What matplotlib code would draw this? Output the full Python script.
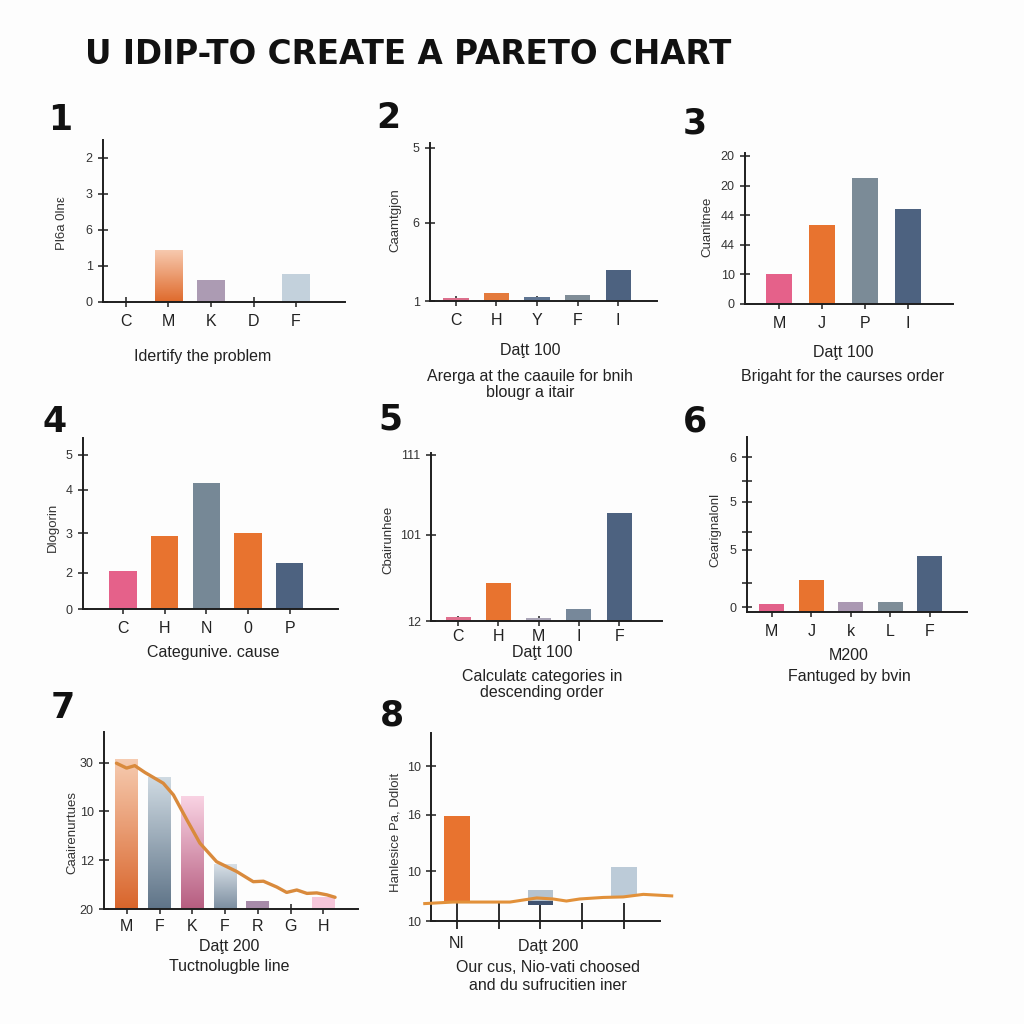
import matplotlib.pyplot as plt
import numpy as np
from matplotlib.colors import LinearSegmentedColormap

W = H = 1024

title = "U IDIP-TO CREATE A PARETO CHART"

# panel 1
p1_cats = ["C", "M", "K", "D", "F"]
p1_vals = [0, 1.44, 0.6, 0, 0.78]
p1_yticklabels = ["0", "1", "6", "3", "2"]
p1_ylabel = "Pl6a 0lnε"
p1_caption = ["Idertify the problem"]

# panel 2
p2_cats = ["C", "H", "Y", "F", "I"]
p2_vals = [0.2, 0.5, 0.25, 0.4, 2.0]
p2_yticklabels = ["1", "6", "5"]
p2_ylabel = "Caamtgjon"
p2_caption = ["Daţt 100", "Arerga at the caauile for bnih", "blougr a itair"]

# panel 3
p3_cats = ["M", "J", "P", "I"]
p3_vals = [1.0, 2.67, 4.26, 3.2]
p3_yticklabels = ["0", "10", "44", "44", "20", "20"]
p3_ylabel = "Cuanitnee"
p3_caption = ["Daţt 100", "Brigaht for the caurses order"]

# panel 4
p4_cats = ["C", "H", "N", "0", "P"]
p4_vals = [0.99, 1.9, 3.27, 1.97, 1.19]
p4_yticklabels = ["0", "2", "3", "4", "5"]
p4_ylabel = "Dlogorin"
p4_caption = ["Categunive. cause"]

# panel 5
p5_cats = ["C", "H", "M", "I", "F"]
p5_vals = [0.05, 0.46, 0.04, 0.145, 1.3]
p5_yticklabels = ["12", "101", "111"]
p5_ylabel = "Cbairunhee"
p5_caption = ["Daţt 100", "Calculatε categories in", "descending order"]

# panel 6
p6_cats = ["M", "J", "k", "L", "F"]
p6_vals = [0.16, 0.64, 0.2, 0.2, 1.12]
p6_yticklabels = ["0", "5", "5", "6"]
p6_ylabel = "Cearignalonl"
p6_caption = ["M200", "Fantuged by bvin"]

# panel 7
p7_cats = ["M", "F", "K", "F", "R", "G", "H"]
p7_vals = [3.06, 2.69, 2.3, 0.92, 0.16, 0, 0.25]
p7_line_x = [-0.32, -0.01, 0.24, 0.55, 1.11, 1.42, 1.83, 2.23, 2.74, 3.35,
             3.86, 4.17, 4.58, 4.88, 5.19, 5.50, 5.80, 6.11, 6.36]
p7_line_y = [2.99, 2.89, 2.94, 2.80, 2.58, 2.34, 1.83, 1.35, 0.97, 0.77,
             0.56, 0.57, 0.45, 0.34, 0.39, 0.32, 0.33, 0.29, 0.24]
p7_yticklabels = ["20", "12", "10", "30"]
p7_ylabel = "Caairenurtues"
p7_caption = ["Daţt 200", "Tuctnolugble line"]

# panel 8
p8_cats = ["NI", "", "", "", ""]
p8_bar_pos = [0, 2, 2, 4]
p8_bar_bottom = [0.39, 0.31, 0.39, 0.49]
p8_bar_height = [1.65, 0.08, 0.22, 0.57]
p8_line_x = [-0.77, -0.09, 1.27, 1.91, 2.30, 2.62, 2.94, 3.50, 3.98, 4.46, 5.14]
p8_line_y = [0.34, 0.37, 0.37, 0.45, 0.43, 0.39, 0.43, 0.46, 0.47, 0.52, 0.49]
p8_yticklabels = ["10", "10", "16", "10"]
p8_ylabel = "Hanlesice Pa, Ddloit"
p8_caption = ["Daţt 200", "Our cus, Nio-vati choosed", "and du sufrucitien iner"]

PINK = "#e5618a"
ORANGE = "#e8732f"
STEEL = "#768896"
NAVY = "#4d6280"
AX = "#1e1e1e"

plt.rcParams["font.family"] = ["Liberation Sans", "DejaVu Sans"]
fig = plt.figure(figsize=(10.24, 10.24), dpi=100)
fig.patch.set_facecolor("#fdfdfd")


def px_rect(left, top, right, bottom):
    return [left / W, 1 - bottom / H, (right - left) / W, (bottom - top) / H]


def ftext(x, y, s, **kw):
    fig.text(x / W, 1 - y / H, s, **kw)


def make_axes(rect, xlim, ylim, ytick_pos, ytick_labels, cats):
    ax = fig.add_axes(px_rect(*rect))
    ax.set_facecolor("none")
    for s in ("top", "right"):
        ax.spines[s].set_visible(False)
    for s in ("left", "bottom"):
        ax.spines[s].set_linewidth(1.4)
        ax.spines[s].set_color(AX)
    ax.set_yticks(ytick_pos, ytick_labels)
    ax.set_xticks(range(len(cats)), cats)
    ax.tick_params(direction="inout", length=7, width=1.1, color=AX)
    ax.tick_params(axis="x", labelsize=11.5, pad=5, labelcolor="#222")
    ax.tick_params(axis="y", labelsize=9, pad=4, labelcolor="#333")
    ax.set_xlim(*xlim)
    ax.set_ylim(*ylim)
    return ax


def gradient_bar(ax, x, h, w, top, bottom, y0=0):
    cmap = LinearSegmentedColormap.from_list("g", [bottom, top])
    grad = np.linspace(0, 1, 128).reshape(-1, 1)
    ax.imshow(grad, extent=(x - w / 2, x + w / 2, y0, y0 + h), origin="lower",
              cmap=cmap, aspect="auto", zorder=2)


def panel_number(x, y, n):
    ftext(x, y, n, fontsize=25, fontweight="bold", family="DejaVu Sans",
          ha="center", va="center", color="#111")


def ylabel(x, y, s):
    ftext(x, y, s, fontsize=9.5, rotation=90, ha="center", va="center", color="#333")


def caption(x, ys, lines):
    for y, s in zip(ys, lines):
        ftext(x, y, s, fontsize=11.5, ha="center", va="center", color="#222")


ftext(85, 55, title, fontsize=23.5, fontweight="bold", family="DejaVu Sans",
      ha="left", va="center", color="#111")

# ---- panel 1
ax = make_axes((103, 140, 345, 302), (-0.54, 5.15), (0, 4.5),
               range(5), p1_yticklabels, p1_cats)
w1 = 0.64
gradient_bar(ax, 1, p1_vals[1], w1, "#f7c9ae", "#df6a2c")
ax.bar([3, 4], [p1_vals[3], p1_vals[4]], width=w1, color=["#cccccc", "#c3d1dc"], zorder=2)
ax.bar(2, p1_vals[2], width=w1, color="#ac9bb3", zorder=2)
ax.set_xlim(-0.54, 5.15)
ax.set_ylim(0, 4.5)
panel_number(60, 120, "1")
ylabel(62, 223, p1_ylabel)
caption(203, [356], p1_caption)

# ---- panel 2
ax = make_axes((430, 143, 657, 301), (-0.64, 4.96), (0, 10.3),
               [0, 5.1, 10.0], p2_yticklabels, p2_cats)
ax.bar(range(5), p2_vals, width=0.62,
       color=["#dc6f8c", "#e47a3c", "#5f7592", "#808d97", NAVY], zorder=2)
panel_number(388, 118, "2")
ylabel(395, 220, p2_ylabel)
caption(530, [351, 377, 393], p2_caption)

# ---- panel 3
ax = make_axes((745, 153, 953, 304), (-0.79, 4.05), (0, 5.1),
               range(6), p3_yticklabels, p3_cats)
ax.bar(range(4), p3_vals, width=0.6, color=[PINK, ORANGE, "#7b8b97", NAVY], zorder=2)
panel_number(695, 124, "3")
ylabel(707, 227, p3_ylabel)
caption(843, [352, 376], p3_caption)

# ---- panel 4
ax = make_axes((83, 438, 338, 609), (-0.96, 5.16), (0, 4.44),
               [0, 0.94, 1.97, 3.09, 4.0], p4_yticklabels, p4_cats)
ax.bar(range(5), p4_vals, width=0.65, color=[PINK, ORANGE, STEEL, ORANGE, NAVY], zorder=2)
panel_number(55, 422, "4")
ylabel(53, 527, p4_ylabel)
caption(213, [653], p4_caption)

# ---- panel 5
ax = make_axes((431, 453, 662, 621), (-0.67, 5.06), (0, 2.02),
               [0, 1.04, 2.0], p5_yticklabels, p5_cats)
ax.tick_params(axis="x", pad=2)
ax.bar(range(5), p5_vals, width=0.62,
       color=["#e0708e", ORANGE, "#aaa5b7", "#77889a", NAVY], zorder=2)
panel_number(390, 420, "5")
ylabel(388, 540, p5_ylabel)
caption(542, [652, 677, 693], p5_caption)

# ---- panel 6
ax = make_axes((747, 437, 967, 612), (-0.63, 4.94), (0, 3.5),
               [0.1, 1.24, 2.2, 3.1], p6_yticklabels, p6_cats)
ax.set_yticks([0.58, 1.6, 2.62], minor=True)
ax.tick_params(axis="y", which="minor", direction="inout", length=7, width=1.1, color=AX)
ax.bar(range(5), p6_vals, width=0.63,
       color=["#e2618a", ORANGE, "#ab99b3", "#7e8d98", NAVY], zorder=2)
panel_number(695, 422, "6")
ylabel(715, 530, p6_ylabel)
caption(849, [655, 677], p6_caption)

# ---- panel 7
ax = make_axes((104, 732, 358, 909), (-0.7, 7.06), (0, 3.63),
               range(4), p7_yticklabels, p7_cats)
ax.tick_params(axis="x", pad=4)
w7 = 0.7
grads = [("#f6cbb0", "#d9652b"), ("#cfdae2", "#5f7488"), ("#f9d3e3", "#b65d80"),
         ("#d8e0e7", "#7c8ea0")]
for i, (top, bot) in enumerate(grads):
    gradient_bar(ax, i, p7_vals[i], w7, top, bot)
ax.bar([4, 5, 6], p7_vals[4:], width=w7, color=["#a78ba9", "#cccccc", "#f6c6da"], zorder=2)
ax.plot(p7_line_x, p7_line_y, color="#d98a3c", lw=2.4, zorder=3,
        solid_capstyle="round", clip_on=False)
ax.set_xlim(-0.7, 7.06)
ax.set_ylim(0, 3.63)
panel_number(63, 708, "7")
ylabel(72, 832, p7_ylabel)
caption(229, [946, 966], p7_caption)

# ---- panel 8
ax = make_axes((431, 733, 660, 921), (-0.62, 4.86), (0, 3.67),
               [0, 0.97, 2.07, 3.02], p8_yticklabels, p8_cats)
ax.tick_params(axis="x", length=0, pad=11)
ax.vlines(range(5), -0.15, 0.36, color=AX, lw=1.3, clip_on=False, zorder=1)
ax.bar(p8_bar_pos, p8_bar_height, bottom=p8_bar_bottom, width=0.62,
       color=[ORANGE, "#3f5270", "#b5c3cf", "#bccbd8"], zorder=2)
ax.plot(p8_line_x, p8_line_y, color="#e2913a", lw=2.2, zorder=3, clip_on=False)
panel_number(392, 715, "8")
ylabel(395, 832, p8_ylabel)
caption(548, [947, 967, 985], p8_caption)

fig.savefig("out.png", dpi=100, facecolor=fig.get_facecolor())
